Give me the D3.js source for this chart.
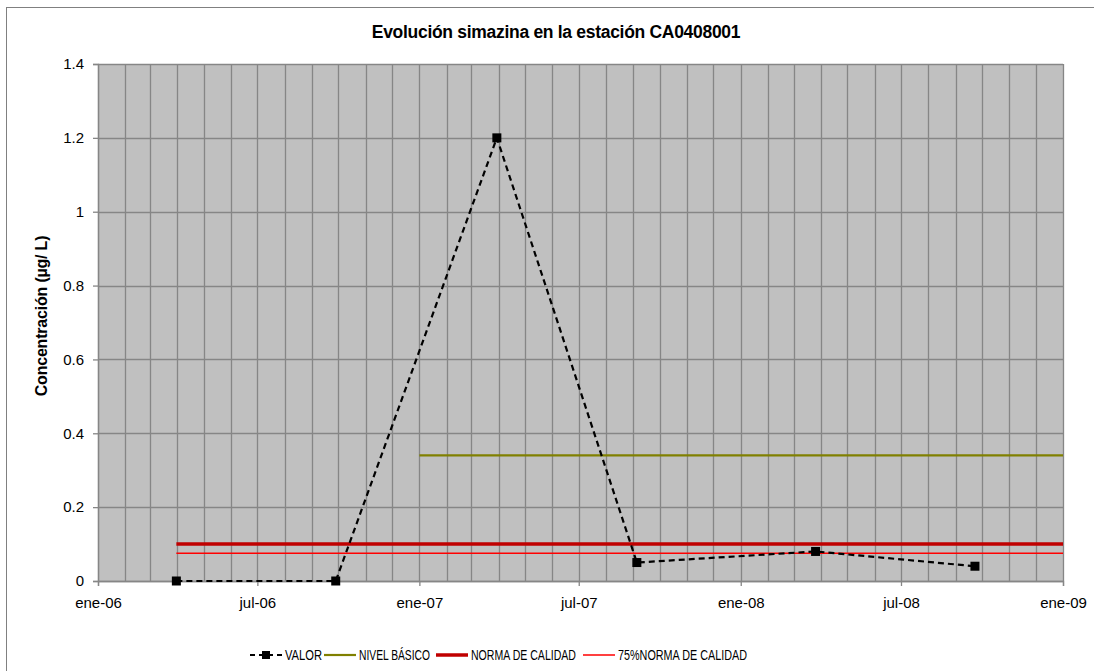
<!DOCTYPE html>
<html>
<head>
<meta charset="utf-8">
<script src="https://cdn.jsdelivr.net/npm/d3@7"></script>
<style>
  body { margin: 0; background: #fff; }
  svg { font-family: "Liberation Sans", Arial, sans-serif; }
</style>
</head>
<body>
<script>
let W = 1094, H = 671;
let margin = {left: 98, right: 31, top: 64, bottom: 90};

// data
let fechas = ["2006-03-31", "2006-09-28", "2007-03-30", "2007-09-05", "2008-03-26", "2008-09-23"];
let valor = [0, 0, 1.2, 0.05, 0.08, 0.04];
let nivelFechas = ["2007-01-01", "2009-01-01"];
let nivelBasico = [0.34, 0.34];
let normaFechas = ["2006-03-31", "2009-01-01"];
let norma = [0.1, 0.1];
let norma75 = [0.075, 0.075];
let yTicks = [0, 0.2, 0.4, 0.6, 0.8, 1, 1.2, 1.4];
let meses = ["ene", "feb", "mar", "abr", "may", "jun", "jul", "ago", "sep", "oct", "nov", "dic"];

let parse = d3.timeParse("%Y-%m-%d");
let w = W - margin.left - margin.right;
let h = H - margin.top - margin.bottom;

let svg = d3.select("body").append("svg").attr("width", W).attr("height", H);

// outer chart frame
svg.append("rect").attr("x", 6.5).attr("y", 7.5).attr("width", W + 10).attr("height", H + 10)
  .attr("fill", "#fff").attr("stroke", "#808080").attr("stroke-width", 1);

let g = svg.append("g").attr("transform", "translate(" + margin.left + "," + margin.top + ")");

let x = d3.scaleTime().domain([new Date(2006, 0, 1), new Date(2009, 0, 1)]).range([0, w]);
let y = d3.scaleLinear().domain([0, 1.4]).range([h, 0]);

g.append("rect").attr("width", w).attr("height", h).attr("fill", "#c0c0c0");

// monthly vertical gridlines
let months = d3.timeMonth.range(new Date(2006, 0, 1), new Date(2009, 0, 2));
g.selectAll(".vg").data(months).enter().append("line")
  .attr("x1", d => Math.round(x(d)) + 0.5).attr("x2", d => Math.round(x(d)) + 0.5)
  .attr("y1", 0).attr("y2", h)
  .attr("stroke", "#868686").attr("stroke-width", 1.3);

// horizontal gridlines
g.selectAll(".hg").data(yTicks).enter().append("line")
  .attr("x1", 0).attr("x2", w)
  .attr("y1", d => Math.round(y(d)) + 0.5).attr("y2", d => Math.round(y(d)) + 0.5)
  .attr("stroke", "#868686").attr("stroke-width", 1.3);

// axes
let yAxis = d3.axisLeft(y).tickValues(yTicks).tickSize(5).tickPadding(9).tickFormat(d => d3.format("")(d));
let yg = g.append("g").call(yAxis);
let xAxis = d3.axisBottom(x).ticks(d3.timeMonth.every(6)).tickSize(5).tickPadding(11)
  .tickFormat(d => meses[d.getMonth()] + "-" + d3.timeFormat("%y")(d));
let xg = g.append("g").attr("transform", "translate(0," + h + ")").call(xAxis);
[yg, xg].forEach(a => {
  a.select(".domain").attr("stroke", "#868686").attr("stroke-width", 1.3);
  a.selectAll(".tick line").attr("stroke", "#868686").attr("stroke-width", 1.3);
  a.selectAll("text").attr("font-size", 15).attr("fill", "#000")
    .attr("font-family", "Liberation Sans, Arial, sans-serif");
});

let line = d3.line().x(d => x(d[0])).y(d => y(d[1]));
let pts = (ds, vs) => ds.map((d, i) => [parse(d), vs[i]]);

g.append("path").attr("d", line(pts(nivelFechas, nivelBasico)))
  .attr("fill", "none").attr("stroke", "#808000").attr("stroke-width", 2.2);
g.append("path").attr("d", line(pts(normaFechas, norma)))
  .attr("fill", "none").attr("stroke", "#c00000").attr("stroke-width", 3.5);
g.append("path").attr("d", line(pts(normaFechas, norma75)))
  .attr("fill", "none").attr("stroke", "#ff0000").attr("stroke-width", 1.5);

let vp = pts(fechas, valor);
g.append("path").attr("d", line(vp))
  .attr("fill", "none").attr("stroke", "#000").attr("stroke-width", 2.2).attr("stroke-dasharray", "6,4");
g.selectAll(".mk").data(vp).enter().append("rect")
  .attr("x", d => x(d[0]) - 4.5).attr("y", d => y(d[1]) - 4.5)
  .attr("width", 9).attr("height", 9).attr("fill", "#000");

// title
svg.append("text").attr("x", 556).attr("y", 38).attr("text-anchor", "middle")
  .attr("font-size", 17.5).attr("font-weight", "bold").attr("letter-spacing", -0.3)
  .text("Evolución simazina en la estación CA0408001");

// y title
svg.append("text").attr("transform", "translate(47," + 316 + ") rotate(-90)")
  .attr("text-anchor", "middle").attr("font-size", 16).attr("font-weight", "bold").attr("letter-spacing", -0.2)
  .text("Concentración (µg/ L)");

// legend
let legItems = [
  {name: "VALOR", x: 250, len: 37, color: "#000", sw: 2.2, dash: "5,4", marker: true},
  {name: "NIVEL BÁSICO", x: 324, len: 71, color: "#808000", sw: 2.2},
  {name: "NORMA DE CALIDAD", x: 436, len: 105, color: "#c00000", sw: 3.5},
  {name: "75%NORMA DE CALIDAD", x: 583, len: 129, color: "#ff0000", sw: 1.5}
];
let leg = svg.append("g").attr("transform", "translate(0,655)");
legItems.forEach(it => {
  leg.append("line").attr("x1", it.x).attr("x2", it.x + 32).attr("y1", 0).attr("y2", 0)
    .attr("stroke", it.color).attr("stroke-width", it.sw).attr("stroke-dasharray", it.dash || null);
  if (it.marker) leg.append("rect").attr("x", it.x + 12).attr("y", -4).attr("width", 8).attr("height", 8).attr("fill", "#000");
  leg.append("text").attr("x", it.x + 35).attr("y", 5).attr("font-size", 14.5)
    .attr("textLength", it.len).attr("lengthAdjust", "spacingAndGlyphs")
    .text(it.name);
});
</script>
</body>
</html>
